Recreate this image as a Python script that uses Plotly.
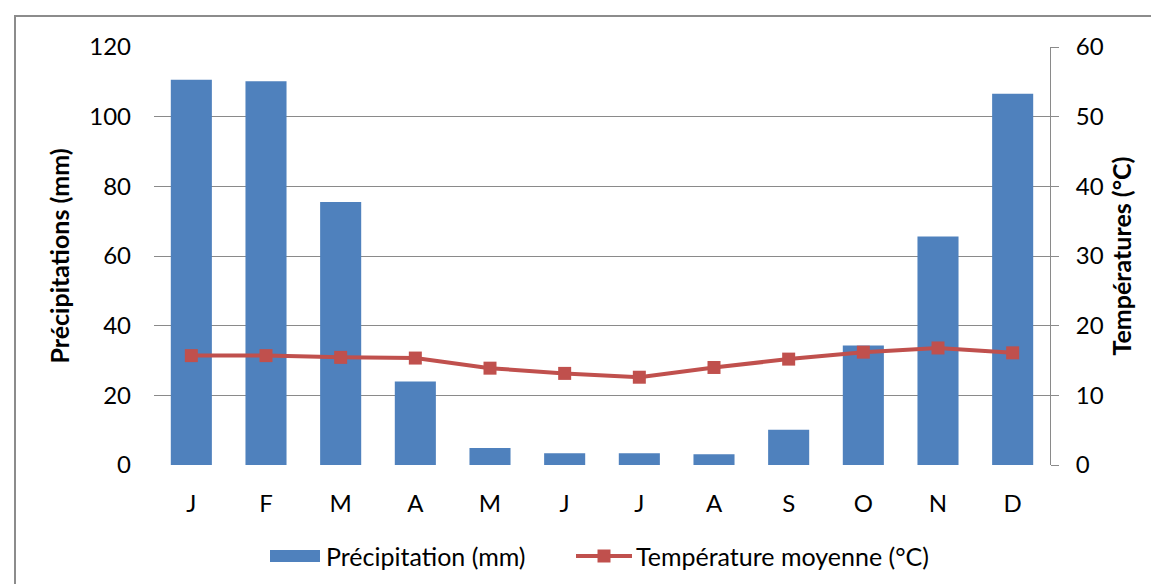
import plotly.graph_objects as go

months = ["J", "F", "M", "A", "M", "J", "J", "A", "S", "O", "N", "D"]
precip = [110.6, 110.2, 75.5, 24.0, 4.9, 3.4, 3.4, 3.1, 10.1, 34.3, 65.6, 106.6]
temp = [15.7, 15.7, 15.45, 15.35, 13.9, 13.15, 12.6, 14.0, 15.2, 16.2, 16.8, 16.1]
left_ticks = [0, 20, 40, 60, 80, 100, 120]
right_ticks = [0, 10, 20, 30, 40, 50, 60]
precip_name = "Précipitation (mm)"
temp_name = "Température moyenne (°C)"

x = list(range(len(months)))
FONT = "Lato, Calibri, sans-serif"
BLUE = "#4F81BD"
RED = "#C0504D"

W, H = 1159, 584
L, R, T, B = 146, 117, 39, 127
pw, ph = W - L - R, H - T - B


def px(xp):
    return (xp - L) / pw


def py(yp):
    return (H - B - yp) / ph


fig = go.Figure()
fig.add_trace(go.Bar(
    x=x, y=precip, name=precip_name,
    marker=dict(color=BLUE, line=dict(width=0)),
    yaxis="y", showlegend=False,
))
fig.add_trace(go.Scatter(
    x=x, y=temp, name=temp_name,
    mode="lines+markers",
    line=dict(color=RED, width=4),
    marker=dict(symbol="square", size=13, color=RED),
    yaxis="y2", showlegend=False,
))

leg_y = 548
shapes = [
    dict(type="rect", xref="paper", yref="paper",
         x0=px(7), x1=px(W + 20), y0=py(H + 20), y1=py(8),
         line=dict(color="#8C8C8C", width=2), fillcolor="rgba(0,0,0,0)", layer="below"),
    dict(type="rect", xref="paper", yref="paper",
         x0=px(262), x1=px(312), y0=py(leg_y + 6), y1=py(leg_y - 6),
         line=dict(width=0), fillcolor=BLUE),
    dict(type="line", xref="paper", yref="paper",
         x0=px(568), x1=px(624), y0=py(leg_y), y1=py(leg_y),
         line=dict(color=RED, width=4)),
    dict(type="rect", xref="paper", yref="paper",
         x0=px(589.5), x1=px(602.5), y0=py(leg_y + 6.5), y1=py(leg_y - 6.5),
         line=dict(width=0), fillcolor=RED),
]
annotations = [
    dict(text=precip_name, xref="paper", yref="paper", x=px(316), y=py(leg_y),
         xanchor="left", yanchor="middle", showarrow=False, font=dict(size=25)),
    dict(text=temp_name, xref="paper", yref="paper", x=px(626), y=py(leg_y),
         xanchor="left", yanchor="middle", showarrow=False, font=dict(size=25)),
]

fig.update_layout(
    width=W, height=H,
    margin=dict(l=L, r=R, t=T, b=B, autoexpand=False),
    paper_bgcolor="white", plot_bgcolor="white",
    font=dict(family=FONT, size=24, color="#000000"),
    bargap=0.45,
    showlegend=False,
    xaxis=dict(
        tickmode="array", tickvals=x, ticktext=months,
        range=[-0.5, len(months) - 0.5],
        showgrid=False, zeroline=False, showline=False, ticks="",
        tickfont=dict(size=24), ticklabelstandoff=22, automargin=False,
    ),
    yaxis=dict(
        range=[0, 120], tickvals=left_ticks,
        showgrid=True, gridcolor="#8A8A8A", gridwidth=1,
        zeroline=False, showline=False, ticks="",
        tickfont=dict(size=24), ticklabelstandoff=22, automargin=False,
        title=dict(text="<b>Précipitations (mm)</b>", font=dict(size=25), standoff=12),
    ),
    yaxis2=dict(
        range=[0, 60], tickvals=right_ticks, overlaying="y", side="right",
        showgrid=False, zeroline=False,
        showline=True, linecolor="#8A8A8A", linewidth=1,
        ticks="outside", ticklen=8, tickcolor="#8A8A8A",
        tickfont=dict(size=24), ticklabelstandoff=12, automargin=False,
        title=dict(text="<b>Températures (°C)</b>", font=dict(size=25), standoff=10),
    ),
    shapes=shapes,
    annotations=annotations,
)

fig.write_html("out.html")
